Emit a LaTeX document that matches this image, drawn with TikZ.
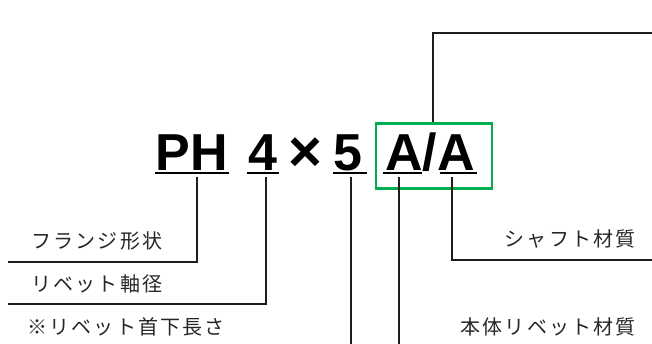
\documentclass[tikz,border=0pt]{standalone}
\usepackage{fontspec}
\setmainfont{Liberation Sans}
\newfontfamily\jpfont[LetterSpace=11]{Noto Sans CJK JP}
\definecolor{boxgreen}{RGB}{0,176,80}
\definecolor{lineblack}{RGB}{30,30,30}
\begin{document}
\begin{tikzpicture}[x=1pt,y=-1pt,
  code/.style={inner sep=0pt,anchor=base,font=\fontsize{52}{52}\selectfont\bfseries},
  lbl/.style={inner sep=0pt,font=\fontsize{20}{20}\selectfont\jpfont,text=black!85},
  conn/.style={draw=lineblack,line width=1.6pt},
  uline/.style={draw=black,line width=1.6pt},
  hl/.style={draw=boxgreen,line width=2.2pt}]
\useasboundingbox (0,0) rectangle (652,344);
% code parts
\node[code] (ph) at (192,171) {PH};
\node[code] (four) at (263,171) {4};
\node[code,font=\fontsize{58}{58}\selectfont\bfseries] (times) at (305,172) {×};
\node[code] (five) at (348,171) {5};
\node[code] (aa) at (430,171) {A/A};
% underlines
\draw[uline] (155,173) -- (229,173);
\draw[uline] (247,173) -- (279,173);
\draw[uline] (333,173) -- (367,173);
\draw[uline] (383,173) -- (422,173);
\draw[uline] (440,173) -- (477,173);
% green box
\node[hl,minimum width=116pt,minimum height=65pt,inner sep=0pt] (gbox) at (434,156) {};
% labels
\node[lbl,anchor=west] (flange) at (31,241) {フランジ形状};
\node[lbl,anchor=west] (dia) at (31,284) {リベット軸径};
\node[lbl,anchor=west] (len) at (27,327) {※リベット首下長さ};
\node[lbl,anchor=east] (shaft) at (636,239) {シャフト材質};
\node[lbl,anchor=east] (body) at (636,327) {本体リベット材質};
% free ends
\coordinate (topend) at (652,33);
\coordinate (phend) at (8,262);
\coordinate (fourend) at (8,304);
\coordinate (fiveend) at (351,344);
\coordinate (a1end) at (399,344);
\coordinate (a2end) at (652,260);
% connectors
\draw[conn] (gbox.north -| 433,0) |- (topend);
\draw[conn] (197,177) |- (phend);
\draw[conn] (266,177) |- (fourend);
\draw[conn] (351,177) -- (fiveend);
\draw[conn] (399,177) -- (a1end);
\draw[conn] (452,177) |- (a2end);
\end{tikzpicture}
\end{document}
